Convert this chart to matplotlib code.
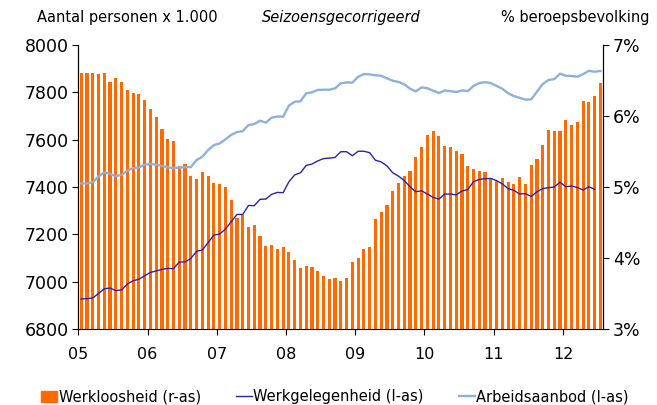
import matplotlib
matplotlib.use("Agg")
import matplotlib.pyplot as plt
from matplotlib.patches import Patch
from matplotlib.lines import Line2D
import numpy as np

plt.rcParams['font.family'] = ['DejaVu Sans']

# maandcijfers jan 2005 - jul 2012
jaren = ['05', '06', '07', '08', '09', '10', '11', '12']

werkloosheid = [6.60, 6.60, 6.60, 6.59, 6.60, 6.48, 6.53, 6.48, 6.36, 6.32, 6.31, 6.22,
                6.10, 5.99, 5.82, 5.67, 5.65, 5.29, 5.33, 5.15, 5.11, 5.21, 5.16, 5.05,
                5.04, 5.00, 4.81, 4.57, 4.60, 4.43, 4.47, 4.31, 4.17, 4.18, 4.13, 4.16,
                4.08, 3.97, 3.86, 3.89, 3.88, 3.81, 3.75, 3.71, 3.72, 3.67, 3.72, 3.95,
                4.00, 4.12, 4.16, 4.55, 4.65, 4.75, 4.95, 5.06, 5.15, 5.23, 5.42, 5.56,
                5.73, 5.79, 5.72, 5.58, 5.57, 5.51, 5.46, 5.30, 5.26, 5.22, 5.21, 5.13,
                5.08, 5.12, 5.07, 5.04, 5.14, 5.04, 5.31, 5.39, 5.59, 5.80, 5.79, 5.79,
                5.95, 5.88, 5.91, 6.21, 6.20, 6.28, 6.46]

werkgelegenheid = [6927, 6928, 6931, 6950, 6970, 6973, 6962, 6965, 6990, 7004, 7010, 7025,
                   7039, 7045, 7052, 7056, 7055, 7083, 7083, 7098, 7128, 7134, 7165, 7197,
                   7201, 7222, 7253, 7284, 7284, 7322, 7321, 7348, 7349, 7369, 7377, 7376,
                   7422, 7451, 7460, 7491, 7497, 7510, 7520, 7522, 7525, 7549, 7549, 7532,
                   7551, 7551, 7545, 7513, 7506, 7489, 7460, 7446, 7427, 7401, 7380, 7384,
                   7370, 7356, 7349, 7370, 7370, 7367, 7383, 7389, 7422, 7432, 7435, 7436,
                   7427, 7413, 7393, 7386, 7370, 7372, 7360, 7380, 7393, 7397, 7400, 7420,
                   7401, 7404, 7398, 7387, 7401, 7390]

arbeidsaanbod = [7415, 7415, 7420, 7444, 7462, 7455, 7446, 7451, 7469, 7479, 7483, 7494,
                 7498, 7494, 7489, 7483, 7480, 7482, 7484, 7484, 7514, 7528, 7556, 7577,
                 7584, 7601, 7620, 7632, 7636, 7662, 7666, 7680, 7672, 7693, 7698, 7697,
                 7744, 7760, 7762, 7796, 7800, 7810, 7811, 7811, 7817, 7838, 7842, 7841,
                 7866, 7877, 7876, 7872, 7870, 7859, 7849, 7844, 7834, 7815, 7804, 7821,
                 7817, 7807, 7797, 7808, 7805, 7801, 7808, 7805, 7827, 7839, 7843, 7839,
                 7827, 7815, 7796, 7784, 7777, 7769, 7770, 7803, 7835, 7852, 7856, 7879,
                 7870, 7869, 7866, 7877, 7891, 7887, 7890]

oranje = '#FF6A00'
donkerblauw = '#2424B4'
lichtblauw = '#8CB2DA'

fig = plt.figure(figsize=(6.57, 4.05), dpi=100)
ax = fig.add_axes([0.1192, 0.1877, 0.7991, 0.7012])
ax2 = ax.twinx()

x_bar = np.arange(len(werkloosheid)) + 0.5
ax2.bar(x_bar, werkloosheid, width=0.55, color=oranje, edgecolor='none')
ax2.set_ylim(3, 7)
ax2.set_yticks([3, 4, 5, 6, 7])
ax2.set_yticklabels(['3%', '4%', '5%', '6%', '7%'], fontsize=12.5)

ax.plot(np.arange(len(arbeidsaanbod)) + 0.5, arbeidsaanbod, color=lichtblauw, lw=1.7)
ax.plot(np.arange(len(werkgelegenheid)) + 0.5, werkgelegenheid, color=donkerblauw, lw=1.0)
ax.set_ylim(6800, 8000)
ax.set_yticks(range(6800, 8001, 200))
ax.tick_params(axis='y', labelsize=12.5)
ax.set_xlim(0, 91)
ax.set_xticks(np.arange(0, 85, 12))
ax.set_xticklabels(jaren, fontsize=11.5)

# lijnen boven de staven
ax.set_zorder(ax2.get_zorder() + 1)
ax.patch.set_visible(False)

for a in (ax, ax2):
    a.spines['top'].set_visible(False)
    a.tick_params(direction='out', length=4, width=0.8, pad=3)
ax.tick_params(axis='x', pad=9)
ax2.spines['bottom'].set_visible(False)

fig.text(0.056, 0.957, 'Aantal personen x 1.000', fontsize=10.5, va='center')
fig.text(0.398, 0.957, 'Seizoensgecorrigeerd', fontsize=10.5, style='italic', va='center')
fig.text(0.988, 0.957, '% beroepsbevolking', fontsize=10.5, va='center', ha='right')

handles = [Patch(color=oranje),
           Line2D([0], [0], color=donkerblauw, lw=1.0),
           Line2D([0], [0], color=lichtblauw, lw=1.7)]
labels = ['Werkloosheid (r-as)', 'Werkgelegenheid (l-as)', 'Arbeidsaanbod (l-as)']
fig.legend(handles, labels, loc='center', bbox_to_anchor=(0.51, 0.02), ncol=3,
           frameon=False, fontsize=10.5, handlelength=1.1, handleheight=0.8,
           handletextpad=0.1, columnspacing=2.4)

fig.savefig('out.png', dpi=100)
